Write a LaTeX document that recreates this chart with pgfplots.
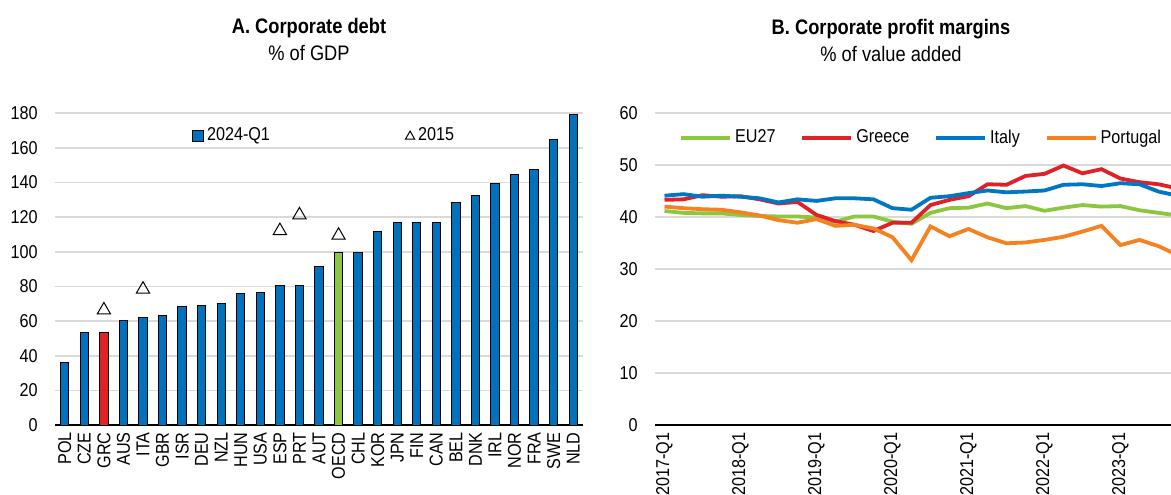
\documentclass[border=0pt]{standalone}
\usepackage{pgfplots}
\pgfplotsset{compat=1.18}
\usepackage{fontspec}
\setmainfont{Liberation Sans}[FakeStretch=0.87]
\definecolor{barblue}{RGB}{0,113,188}
\definecolor{cred}{RGB}{225,33,40}
\definecolor{cgreen}{RGB}{141,198,63}
\definecolor{lblue}{RGB}{0,119,195}
\definecolor{lorange}{RGB}{245,130,32}
\definecolor{gridgray}{RGB}{217,217,217}
\pgfplotsset{
  common/.style={
    scale only axis,
    anchor=south west,
    font=\fontsize{9.3}{11}\selectfont,
    /pgf/number format/assume math mode=true,
    axis lines*=left,
    y axis line style={draw=none},
    x axis line style={-, black, line width=0.6pt},
    ymajorgrids,
    major grid style={gridgray, line width=0.85pt},
    major tick length=0pt,
    minor tick length=2.6pt,
    tick align=outside,
    minor x tick style={black, line width=0.6pt},
    ytick style={draw=none},
    xtick style={draw=none},
    y tick label style={anchor=east, inner sep=0pt, xshift=-8.5pt},
    x tick label style={rotate=90, anchor=east, inner sep=0pt, yshift=0pt, xshift=0pt},
    xticklabel shift=3.5pt,
    legend style={draw=none, fill=none, inner sep=0pt, outer sep=0pt,
      font=\fontsize{9.3}{11}\selectfont,
      nodes={inner xsep=1.5pt, inner ysep=0pt}},
    legend cell align=left,
  }
}
\begin{document}
\begin{tikzpicture}
% Titles
\node[anchor=base, font=\fontsize{10.5}{12}\selectfont\bfseries] at (154.5pt,-16.5pt) {A. Corporate debt};
\node[anchor=base, font=\fontsize{10.5}{12}\selectfont] at (154.5pt,-30pt) {\% of GDP};
\node[anchor=base, font=\fontsize{10.5}{12}\selectfont\bfseries] at (445.5pt,-17pt) {B. Corporate profit margins};
\node[anchor=base, font=\fontsize{10.5}{12}\selectfont] at (445.5pt,-30.5pt) {\% of value added};

% Panel A
\begin{axis}[common,
  at={(27.5pt,-212.5pt)},
  width=264pt, height=155.85pt,
  xmin=-0.5, xmax=26.5, ymin=0, ymax=180,
  ytick={0,20,...,180},
  xtick={0,...,26},
  xticklabels={POL,CZE,GRC,AUS,ITA,GBR,ISR,DEU,NZL,HUN,USA,ESP,PRT,AUT,OECD,CHL,KOR,JPN,FIN,CAN,BEL,DNK,IRL,NOR,FRA,SWE,NLD},
  minor xtick={-0.5,0.5,...,26.5},
  legend columns=2,
  legend style={at={(0.2595,0.9288)}, anchor=west,
    /tikz/every even column/.append style={column sep=66pt}},
]
\addplot[ybar, bar width=4.15pt, bar shift=0pt, fill=barblue, draw=black, line width=0.5pt,
  legend image code/.code={\draw[fill=barblue, draw=black, line width=0.5pt] (0pt,-2.75pt) rectangle (5.5pt,2.75pt);}]
  coordinates {(0,36.2) (1,53.3) (3,60.1) (4,62.2) (5,63.0) (6,68.5) (7,68.9) (8,69.9) (9,75.7) (10,76.6) (11,80.5) (12,80.5) (13,91.4) (15,99.5) (16,111.9) (17,117.0) (18,117.0) (19,117.0) (20,128.6) (21,132.3) (22,139.2) (23,144.4) (24,147.7) (25,164.6) (26,179.4)};
\addlegendentry{2024-Q1}
\addplot[only marks, mark=triangle, mark size=3.8pt, black, mark options={line width=0.5pt},
  legend image code/.code={\draw[black, line width=0.5pt] (0pt,-1.8pt) -- (4.6pt,-1.8pt) -- (2.3pt,2.2pt) -- cycle;}]
  coordinates {(2,66.4) (4,78.4) (11,112.2) (12,121.3) (14,109.5)};
\addlegendentry{2015}
\addplot[ybar, bar width=4.15pt, bar shift=0pt, fill=cred, draw=black, line width=0.5pt, forget plot]
  coordinates {(2,53.7)};
\addplot[ybar, bar width=4.15pt, bar shift=0pt, fill=cgreen, draw=black, line width=0.5pt, forget plot]
  coordinates {(14,99.5)};
\end{axis}

% Panel B
\begin{axis}[common,
  at={(327.5pt,-212.5pt)},
  width=258pt, height=156pt,
  xmin=-0.5, xmax=26.66, ymin=0, ymax=60,
  ytick={0,10,...,60},
  xtick={0,4,...,24},
  xticklabels={2017-Q1,2018-Q1,2019-Q1,2020-Q1,2021-Q1,2022-Q1,2023-Q1},
  minor xtick={-0.5,0.5,...,26.5},
  legend columns=4,
  legend style={at={(0.047,0.92)}, anchor=west,
    /tikz/every even column/.append style={column sep=11pt}},
  every axis plot/.append style={line width=1.9pt},
  legend image code/.code={\draw[#1] (0pt,0pt) -- (24.5pt,0pt);},
]
\addplot[cgreen] coordinates {(0,41.15) (1,40.8) (2,40.7) (3,40.7) (4,40.4) (5,40.2) (6,40.1) (7,40.1) (8,39.9) (9,39.1) (10,40.1) (11,40.1) (12,39.1) (13,38.7) (14,40.8) (15,41.7) (16,41.8) (17,42.6) (18,41.7) (19,42.1) (20,41.2) (21,41.8) (22,42.3) (23,42.0) (24,42.1) (25,41.3) (26,40.8) (27,40.3)};
\addlegendentry{EU27}
\addplot[cred] coordinates {(0,43.3) (1,43.4) (2,44.2) (3,43.9) (4,44.0) (5,43.4) (6,42.6) (7,42.9) (8,40.4) (9,39.2) (10,38.5) (11,37.3) (12,38.9) (13,38.9) (14,42.3) (15,43.3) (16,44.0) (17,46.3) (18,46.2) (19,47.9) (20,48.3) (21,49.9) (22,48.4) (23,49.2) (24,47.4) (25,46.7) (26,46.3) (27,45.5)};
\addlegendentry{Greece}
\addplot[lblue] coordinates {(0,44.1) (1,44.4) (2,43.9) (3,44.1) (4,43.9) (5,43.6) (6,42.8) (7,43.4) (8,43.1) (9,43.6) (10,43.6) (11,43.4) (12,41.7) (13,41.4) (14,43.7) (15,44.0) (16,44.6) (17,45.1) (18,44.75) (19,44.9) (20,45.1) (21,46.2) (22,46.3) (23,45.96) (24,46.5) (25,46.3) (26,44.9) (27,44.1)};
\addlegendentry{Italy}
\addplot[lorange] coordinates {(0,42.0) (1,41.7) (2,41.5) (3,41.4) (4,40.9) (5,40.3) (6,39.4) (7,38.9) (8,39.6) (9,38.3) (10,38.5) (11,37.8) (12,36.1) (13,31.7) (14,38.2) (15,36.3) (16,37.7) (17,36.1) (18,34.95) (19,35.1) (20,35.6) (21,36.2) (22,37.2) (23,38.3) (24,34.6) (25,35.6) (26,34.4) (27,32.7)};
\addlegendentry{Portugal}
\end{axis}
\pgfresetboundingbox
\useasboundingbox (0pt,0pt) rectangle (585.5pt,-247pt);
\end{tikzpicture}
\end{document}
